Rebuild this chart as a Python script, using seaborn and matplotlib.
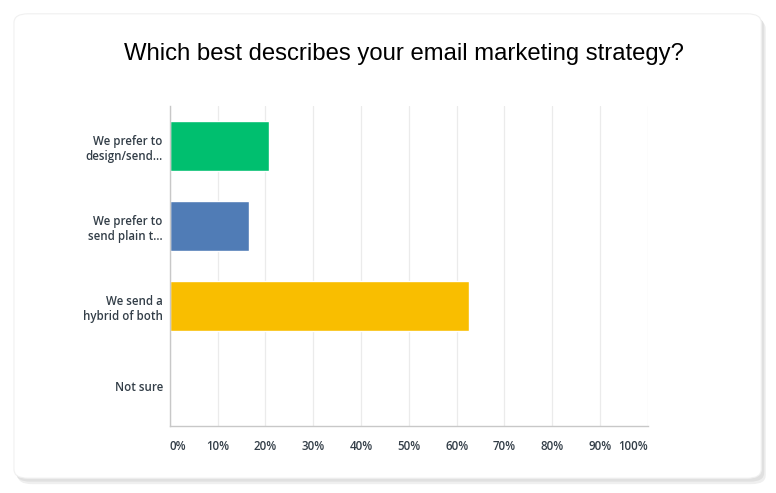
import matplotlib
matplotlib.use("Agg")
import matplotlib.pyplot as plt
from matplotlib.patches import FancyBboxPatch
import seaborn as sns
import pandas as pd

categories = ["We prefer to\ndesign/send…", "We prefer to\nsend plain t…",
              "We send a\nhybrid of both", "Not sure"]
shares = [20.83, 16.67, 62.50, 0.0]
bar_colors = ["#00bf6f", "#507cb6", "#f9be00", "#9d9d9d"]
x_ticks = [0, 10, 20, 30, 40, 50, 60, 70, 80, 90, 100]
x_labels = [f"{t}%" for t in x_ticks]
title = "Which best describes your email marketing strategy?"

df = pd.DataFrame({"answer": categories, "share": shares})

sns.set_theme(style="white")
plt.rcParams["font.family"] = ["Open Sans", "DejaVu Sans"]

fig = plt.figure(figsize=(7.76, 4.93), dpi=100)
fig.patch.set_facecolor("white")

# card with soft shadow
for off, col in [(0.012, "#efefef"), (0.007, "#e0e0e0")]:
    fig.patches.append(FancyBboxPatch((0.018 + off * 0.4, 0.030 - off), 0.964, 0.942,
                                      boxstyle="round,pad=0,rounding_size=0.018",
                                      transform=fig.transFigure, facecolor=col,
                                      edgecolor="none", zorder=0))
fig.patches.append(FancyBboxPatch((0.018, 0.030), 0.963, 0.942,
                                  boxstyle="round,pad=0,rounding_size=0.018",
                                  transform=fig.transFigure, facecolor="white",
                                  edgecolor="#f0f0f0", linewidth=0.8, zorder=1))

ax = fig.add_axes([0.2187, 0.1359, 0.6163, 0.649])
ax.set_facecolor("none")
ax.set_zorder(2)

sns.barplot(data=df, x="share", y="answer", hue="answer", palette=bar_colors,
            orient="h", width=0.625, legend=False, ax=ax, saturation=1)

ax.set_xlim(0, 100)
ax.set_ylim(3.5, -0.5)
ax.set_xticks(x_ticks)
ax.set_xticklabels(x_labels)
ax.xaxis.grid(True, color="#ebebeb", linewidth=0.9)
ax.set_axisbelow(True)
ax.set_xlabel("")
ax.set_ylabel("")

for side in ["top", "right"]:
    ax.spines[side].set_visible(False)
for side in ["left", "bottom"]:
    ax.spines[side].set_color("#c8c8c8")
    ax.spines[side].set_linewidth(1.0)

ax.tick_params(axis="both", length=0, labelsize=8.3, labelcolor="#333e48")
ax.tick_params(axis="x", pad=10)
ax.tick_params(axis="y", pad=5)
for lab in ax.get_xticklabels() + ax.get_yticklabels():
    lab.set_fontweight("semibold")
xl = ax.get_xticklabels()
xl[0].set_horizontalalignment("left")
xl[-1].set_horizontalalignment("right")

fig.text(0.521, 0.89, title, ha="center", va="center", fontsize=17.2,
         color="#000000", family=["Liberation Sans", "DejaVu Sans"], zorder=3)

fig.savefig("out.png", dpi=100, facecolor="white")
